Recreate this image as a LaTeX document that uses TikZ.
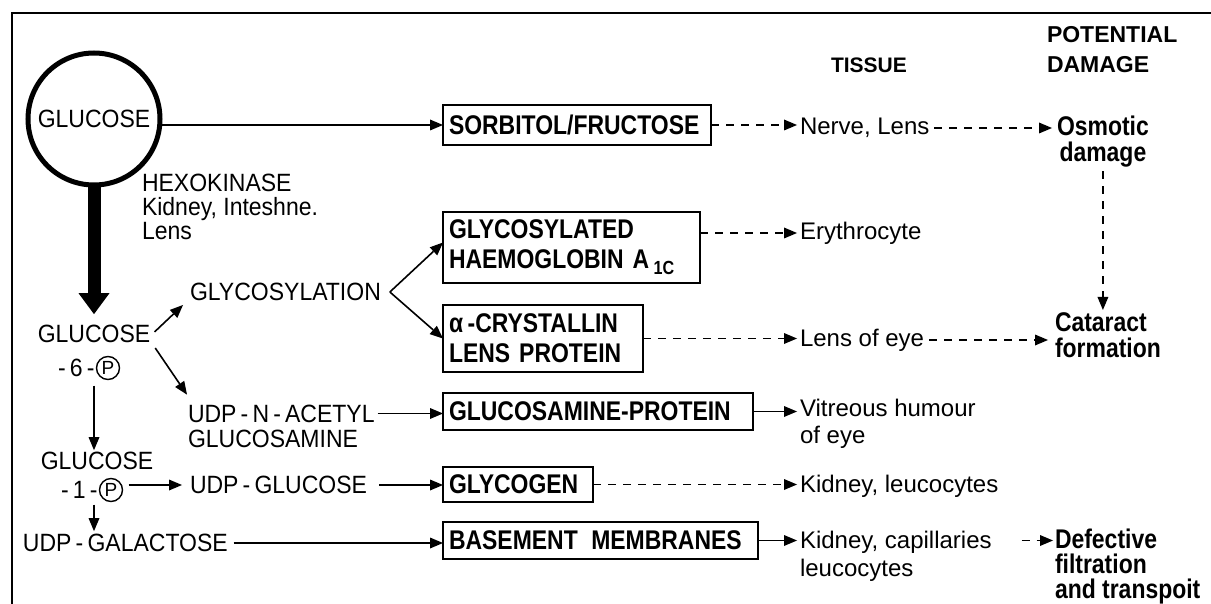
\documentclass[tikz,border=0pt]{standalone}
\usepackage{fontspec}
\setmainfont{Liberation Sans}
\newfontfamily\bxfont{Liberation Sans}[FakeStretch=0.85]
\newfontfamily\rgfont{Liberation Sans}[FakeStretch=0.92]
\usetikzlibrary{arrows.meta,calc}
\begin{document}
\begin{tikzpicture}[x=1pt,y=-1pt,
  every node/.style={inner sep=0pt, outer sep=0pt},
  txt/.style={font=\rgfont\fontsize{25}{24}\selectfont, anchor=west, align=left},
  txc/.style={font=\rgfont\fontsize{25}{24}\selectfont, anchor=center},
  tis/.style={font=\fontsize{24}{27}\selectfont, anchor=west, align=left},
  dmg/.style={font=\bxfont\bfseries\fontsize{27}{26}\selectfont, anchor=west, align=left},
  hdr/.style={font=\bfseries\fontsize{23}{30}\selectfont, anchor=west, align=left},
  boxst/.style={draw, line width=1.8pt, anchor=west, align=left, inner xsep=6pt,
    font=\bxfont\bfseries\fontsize{27}{30}\selectfont},
  pc/.style={circle, draw, line width=1.4pt, minimum size=23pt, font=\fontsize{19}{19}\selectfont},
  arr/.style={line width=1.6pt, -{Triangle[length=13pt,width=11pt,line width=0pt]}},
  dsh/.style={arr, dash pattern=on 8pt off 7pt},
]
\useasboundingbox (0,0) rectangle (1211,604);
% frame
\draw[line width=2.5pt] (12,604) -- (12,13) -- (1211,13);

% glucose circle
\node[circle, draw, line width=5pt, minimum size=132pt, font=\rgfont\fontsize{25}{23}\selectfont] (glc) at (94,119) {GLUCOSE};
\node[txt] (hex) at (142,207) {HEXOKINASE\\Kidney, Inteshne.\\Lens};

% left column
\node[txc] (g6p) at (94,334) {GLUCOSE};
\node[pc] (g6c) at (108,368) {P};
\node[txt, anchor=east] (g6m) at ([xshift=-2pt]g6c.west) {-\,6\,-};
\node[txc] (g1p) at (97,461) {GLUCOSE};
\node[pc] (g1c) at (111,490) {P};
\node[txt, anchor=east] (g1m) at ([xshift=-2pt]g1c.west) {-\,1\,-};
\node[txt] (udpgal) at (23,543) {UDP\,-\,GALACTOSE};
\node[txt] (gsy) at (190,292) {GLYCOSYLATION};
\node[txt, font=\rgfont\fontsize{25}{25}\selectfont] (udpn) at (188,426) {UDP\,-\,N\,-\,ACETYL\\GLUCOSAMINE};
\node[txt] (udpg) at (190,485) {UDP\,-\,GLUCOSE};
\coordinate (v) at ([xshift=9pt]gsy.east);

% boxes
\node[boxst, text width=256pt, minimum height=40pt] (sorb) at (443,125) {SORBITOL/FRUCTOSE};
\node[boxst, text width=245pt, minimum height=71pt] (hb) at (443,247.5) {GLYCOSYLATED\\HAEMOGLOBIN A\,\raisebox{-6pt}{\fontsize{19}{19}\selectfont 1C}};
\node[boxst, text width=188pt, minimum height=67pt] (cry) at (443,338.5) {α\,-CRYSTALLIN\\LENS PROTEIN};
\node[boxst, text width=298pt, minimum height=37pt] (gp) at (443,411.5) {GLUCOSAMINE-PROTEIN};
\node[boxst, text width=138pt, minimum height=35pt] (gly) at (443,484.5) {GLYCOGEN};
\node[boxst, text width=303pt, minimum height=37pt] (bm) at (443,540.5) {BASEMENT\, MEMBRANES};

% tissue column
\node[hdr, font=\bfseries\fontsize{21}{21}\selectfont] (tissue) at (831,65) {TISSUE};
\node[tis] (nl) at (800,128) {Nerve, Lens};
\node[tis] (ery) at (800,233) {Erythrocyte};
\node[tis] (loe) at (800,340) {Lens of eye};
\node[tis] (vit) at (800,423.5) {Vitreous humour\\of eye};
\node[tis] (kl) at (800,486) {Kidney, leucocytes};
\node[tis, font=\fontsize{24}{28}\selectfont] (kc) at (800,556) {Kidney, capillaries\\leucocytes};

% damage column
\node[hdr] (pot) at (1047,50) {POTENTIAL\\DAMAGE};
\node[dmg, align=center] (osm) at (1057,141.5) {Osmotic\\damage};
\node[dmg] (cat) at (1055,335.5) {Cataract\\formation};
\node[dmg, font=\bxfont\bfseries\fontsize{27}{25}\selectfont] (def) at (1055,567) {Defective\\filtration\\and transpoit};

% thick hexokinase arrow
\draw[line width=13pt, -{Triangle[length=21pt,width=31pt,line width=0pt]}, shorten >=11pt]
  (glc.south) -- (g6p.north);

% left connectors
\draw[arr, shorten <=6pt] ([yshift=-2pt]g6p.east) -- ([xshift=-7pt,yshift=-13pt]gsy.west);
\draw[arr] ([xshift=5pt,yshift=-14pt]g6p.east) -- ([xshift=-1pt,yshift=10pt]udpn.north west);
\draw[arr, shorten <=6pt, shorten >=2pt] (g6p.center |- g6c.south) -- (g6p.center |- g1p.north);
\draw[arr, shorten <=6pt, shorten >=8pt] (g1c.east |- udpg.west) -- (udpg.west);
\draw[arr, shorten <=3pt, shorten >=3pt] (g6p.center |- g1c.south) -- (g6p.center |- udpgal.north);

% into boxes
\draw[arr] (glc.east |- sorb.west) -- (sorb.west);
\draw[arr] (v) -- ([yshift=5pt]hb.west);
\draw[arr] (v) -- (cry.west);
\draw[arr, shorten <=3pt] ([yshift=-2pt]udpn.east |- gp.west) -- ([yshift=-2pt]gp.west);
\draw[arr, shorten <=12pt] (udpg.east) -- (udpg.east -| gly.west);
\draw[arr, shorten <=6pt] (udpgal.east) -- (udpgal.east -| bm.west);

% to tissues
\draw[dsh, shorten >=3pt] (sorb.east) -- (sorb.east -| nl.west);
\draw[dsh, shorten >=3pt] (hb.east |- ery.west) -- (ery.west);
\draw[dsh, shorten >=3pt] (cry.east) -- (cry.east -| loe.west);
\draw[arr, shorten >=3pt] (gp.east) -- (gp.east -| vit.west);
\draw[dsh, shorten >=3pt] (gly.east) -- (gly.east -| kl.west);
\draw[arr, shorten >=3pt] (bm.east) -- (bm.east -| kc.west);

% to damage
\draw[dsh, shorten <=5pt, shorten >=5pt] (nl.east) -- (nl.east -| osm.west);
\draw[dsh, shorten <=4pt, shorten >=3pt] (osm.south) -- (osm.south |- cat.north);
\draw[dsh, shorten <=5pt, shorten >=7pt] (loe.east) -- (loe.east -| cat.west);
\draw[dsh, shorten <=30pt, shorten >=2pt] (kc.east |- bm.east) -- (def.west |- bm.east);
\end{tikzpicture}
\end{document}
